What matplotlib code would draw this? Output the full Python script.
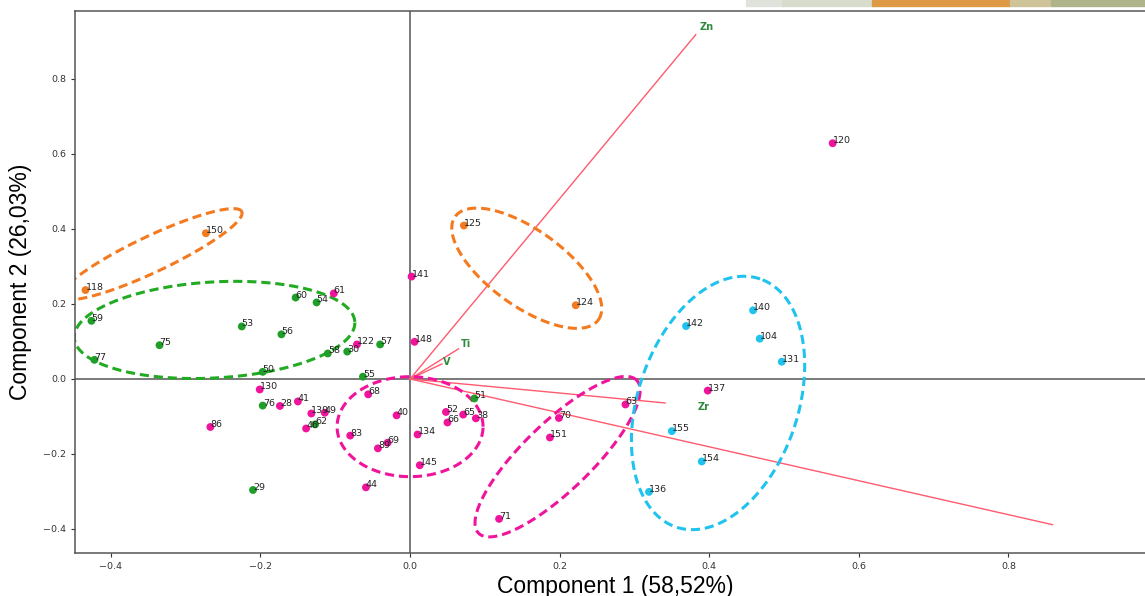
import numpy as np
import matplotlib.pyplot as plt
from matplotlib.patches import Rectangle

# -----------------------------
# Scores per group
# -----------------------------
green_lbl = ["59", "77", "75", "53", "56", "60", "54", "58", "30", "57",
             "50", "55", "76", "62", "29", "51"]
green_x = [-0.426, -0.422, -0.335, -0.225, -0.172, -0.153, -0.125, -0.110, -0.084, -0.040,
           -0.197, -0.063, -0.197, -0.127, -0.210, 0.086]
green_y = [0.155, 0.051, 0.090, 0.140, 0.119, 0.217, 0.204, 0.068, 0.073, 0.092,
           0.019, 0.006, -0.071, -0.121, -0.296, -0.052]

mag_lbl = ["61", "122", "141", "148", "130", "28", "41", "139", "49", "46",
           "86", "68", "40", "83", "89", "69", "44", "134", "145", "52",
           "65", "66", "38", "70", "151", "71", "63", "137", "120"]
mag_x = [-0.102, -0.071, 0.002, 0.006, -0.201, -0.174, -0.150, -0.132, -0.114, -0.139,
         -0.267, -0.056, -0.018, -0.080, -0.043, -0.030, -0.059, 0.010, 0.013, 0.048,
         0.071, 0.050, 0.088, 0.199, 0.187, 0.119, 0.288, 0.398, 0.565]
mag_y = [0.228, 0.092, 0.273, 0.099, -0.028, -0.072, -0.060, -0.092, -0.090, -0.132,
         -0.128, -0.041, -0.097, -0.151, -0.185, -0.170, -0.289, -0.148, -0.230, -0.088,
         -0.095, -0.116, -0.105, -0.104, -0.156, -0.373, -0.068, -0.031, 0.6285]

orange_lbl = ["118", "150", "125", "124"]
orange_x = [-0.434, -0.273, 0.072, 0.2215]
orange_y = [0.237, 0.3885, 0.409, 0.1965]

cyan_lbl = ["140", "142", "104", "131", "155", "154", "136"]
cyan_x = [0.4586, 0.369, 0.4675, 0.497, 0.350, 0.390, 0.3195]
cyan_y = [0.183, 0.141, 0.1075, 0.046, -0.139, -0.220, -0.301]

# -----------------------------
# Loadings (arrows) and label positions
# -----------------------------
load_lbl = ["Zn", "Ti", "V", "Zr", "S"]
load_x = [0.382, 0.0648, 0.0426, 0.341, 0.859]
load_y = [0.918, 0.0804, 0.040, -0.064, -0.3885]
load_tx = [0.397, 0.0745, 0.049, 0.392, 0.988]
load_ty = [0.939, 0.0925, 0.046, -0.074, -0.447]

# -----------------------------
# Group ellipses: center (data), semi-axes (px), angle (deg, screen)
# -----------------------------
ell_cx = [-0.3453, -0.2614, 0.156, 0.0, 0.1972, 0.4118]
ell_cy = [0.3328, 0.1307, 0.2952, -0.1272, -0.2072, -0.064]
ell_a = [99.5, 140.5, 88.3, 73, 110, 131]
ell_b = [18, 48, 38, 50, 34, 80]
ell_ang = [25.3, 3.3, -35.8, 0, 44, 71.3]

C_GREEN = "#1f9e2a"
C_MAG = "#f0149c"
C_ORANGE = "#f47a1f"
C_CYAN = "#1fc3ee"
ell_col = [C_ORANGE, "#22aa22", C_ORANGE, C_MAG, C_MAG, C_CYAN]

# -----------------------------
# Plot
# -----------------------------
fig = plt.figure(figsize=(11.45, 5.96), dpi=100)
ax = fig.add_axes([75 / 1145, 43 / 596, 1080 / 1145, 542 / 596])
ax.set_xlim(-0.448, 0.996)
ax.set_ylim(-0.464, 0.981)

ax.axhline(0, color="#555555", lw=1.1, zorder=1)
ax.axvline(0, color="#555555", lw=1.1, zorder=1)

for xs, ys, lb, c in [(green_x, green_y, green_lbl, C_GREEN),
                      (mag_x, mag_y, mag_lbl, C_MAG),
                      (orange_x, orange_y, orange_lbl, C_ORANGE),
                      (cyan_x, cyan_y, cyan_lbl, C_CYAN)]:
    ax.scatter(xs, ys, s=32, color=c, edgecolors="none", zorder=3)
    for x, y, t in zip(xs, ys, lb):
        ax.text(x, y, t, fontsize=6.8, color="#222222", zorder=4)

for x, y, tx, ty, t in zip(load_x, load_y, load_tx, load_ty, load_lbl):
    ax.plot([0, x], [0, y], color="#ff5a6e", lw=1.0, zorder=2)
    ax.text(tx, ty, t, fontsize=7, color="#2e8b3e", fontweight="bold",
            ha="center", va="center", zorder=4)

# ellipses drawn in screen space so the tilt matches
bb = ax.get_window_extent()
sx = bb.width / (ax.get_xlim()[1] - ax.get_xlim()[0])
sy = bb.height / (ax.get_ylim()[1] - ax.get_ylim()[0])
t = np.linspace(0, 2 * np.pi, 300)
for cx, cy, a, b, ang, c in zip(ell_cx, ell_cy, ell_a, ell_b, ell_ang, ell_col):
    th = np.radians(ang)
    dx = a * np.cos(t) * np.cos(th) - b * np.sin(t) * np.sin(th)
    dy = a * np.cos(t) * np.sin(th) + b * np.sin(t) * np.cos(th)
    ax.plot(cx + dx / sx, cy + dy / sy, color=c, lw=2.2,
            linestyle=(0, (3, 1.6)), zorder=2)

ax.set_xticks([-0.4, -0.2, 0.0, 0.2, 0.4, 0.6, 0.8])
ax.set_yticks([-0.4, -0.2, 0.0, 0.2, 0.4, 0.6, 0.8])
ax.tick_params(labelsize=6.8, colors="#333333", length=3, width=0.8)
for sp in ax.spines.values():
    sp.set_color("#555555")
    sp.set_linewidth(1.1)

ax.set_xlabel("Component 1 (58,52%)", fontname="Liberation Sans", fontsize=16.5, labelpad=3)
ax.set_ylabel("Component 2 (26,03%)", fontname="Liberation Sans", fontsize=16.5, labelpad=8)

# strip of the neighbouring picture at the top right of the screenshot
for x0, x1, c in [(746, 782, "#e0e3dc"), (782, 872, "#d8dccc"), (872, 1010, "#dd9944"),
                  (1010, 1051, "#cfc39a"), (1051, 1145, "#b0b48a")]:
    fig.patches.append(Rectangle((x0 / 1145, 1 - 6 / 596), (x1 - x0) / 1145, 6 / 596,
                                 transform=fig.transFigure, color=c, zorder=0))

fig.savefig("out.png", dpi=100)
